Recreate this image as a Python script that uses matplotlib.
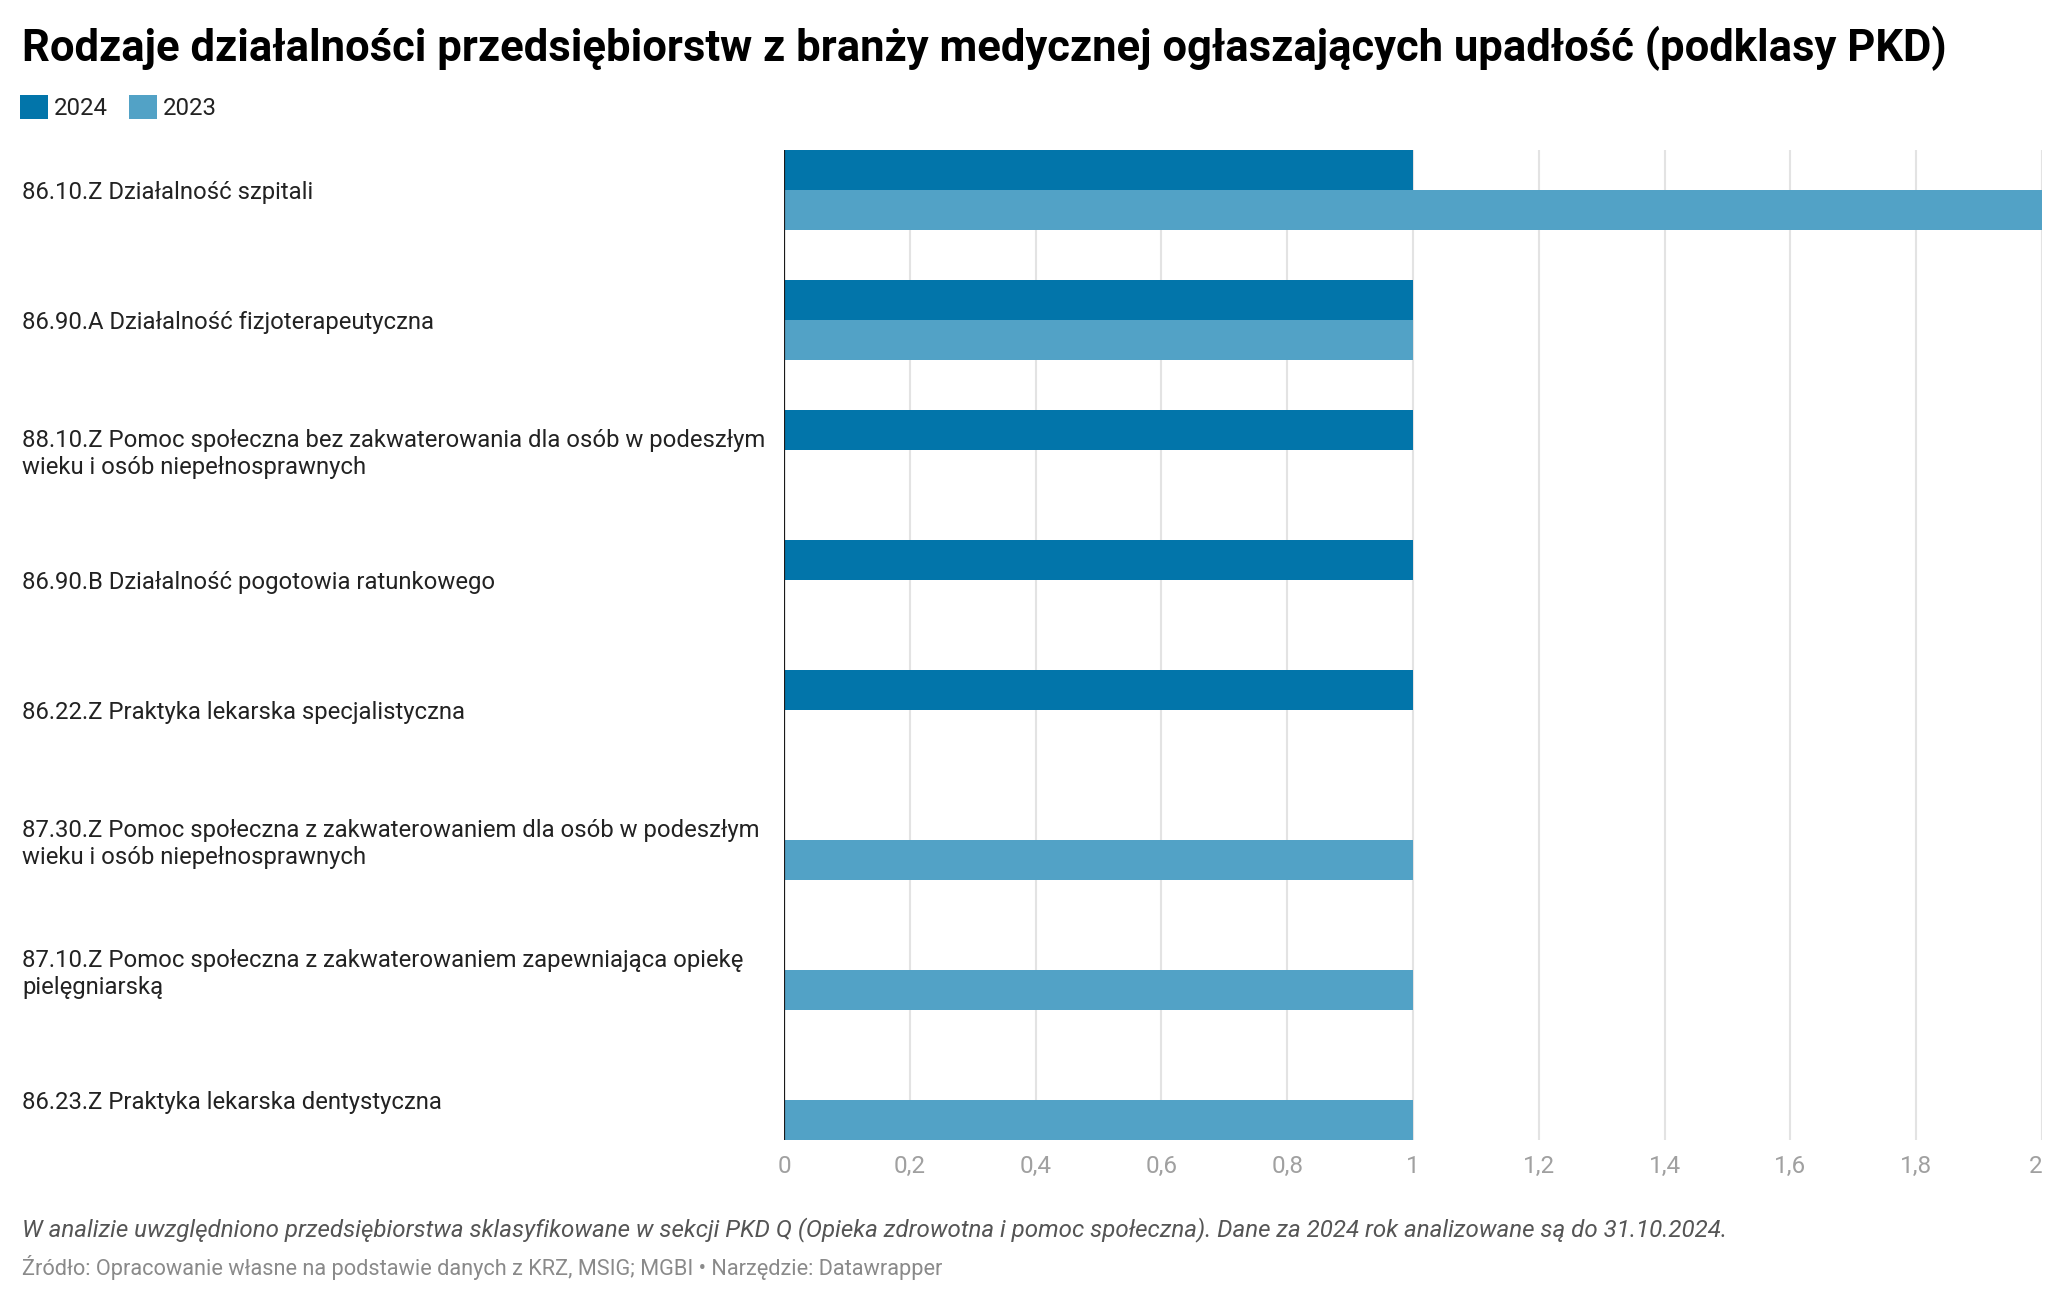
import matplotlib
matplotlib.use("Agg")
import matplotlib.pyplot as plt
from matplotlib.patches import Patch
import numpy as np

plt.rcParams['font.family'] = ['Roboto', 'DejaVu Sans']

categories = [
    "86.10.Z Działalność szpitali",
    "86.90.A Działalność fizjoterapeutyczna",
    "88.10.Z Pomoc społeczna bez zakwaterowania dla osób w podeszłym\nwieku i osób niepełnosprawnych",
    "86.90.B Działalność pogotowia ratunkowego",
    "86.22.Z Praktyka lekarska specjalistyczna",
    "87.30.Z Pomoc społeczna z zakwaterowaniem dla osób w podeszłym\nwieku i osób niepełnosprawnych",
    "87.10.Z Pomoc społeczna z zakwaterowaniem zapewniająca opiekę\npielęgniarską",
    "86.23.Z Praktyka lekarska dentystyczna",
]
series_names = ["2024", "2023"]
values_2024 = [1, 1, 1, 1, 1, 0, 0, 0]
values_2023 = [2, 1, 0, 0, 0, 1, 1, 1]
x_ticks = [0, 0.2, 0.4, 0.6, 0.8, 1, 1.2, 1.4, 1.6, 1.8, 2]
x_tick_labels = ["0", "0,2", "0,4", "0,6", "0,8", "1", "1,2", "1,4", "1,6", "1,8", "2"]

title = "Rodzaje działalności przedsiębiorstw z branży medycznej ogłaszających upadłość (podklasy PKD)"
note = ("W analizie uwzględniono przedsiębiorstwa sklasyfikowane w sekcji PKD Q (Opieka zdrowotna i pomoc "
        "społeczna). Dane za 2024 rok analizowane są do 31.10.2024.")
source = "Źródło: Opracowanie własne na podstawie danych z KRZ, MSIG; MGBI • Narzędzie: Datawrapper"

c2024 = "#0275AA"
c2023 = "#52A2C6"

W, H = 2064, 1302
fig = plt.figure(figsize=(W / 100, H / 100), dpi=100)
left, right, top, bottom = 784, 2042, 150, 1140
ax = fig.add_axes([left / W, 1 - bottom / H, (right - left) / W, (bottom - top) / H])

n = len(categories)
y = np.arange(n)
bh = 40 / 130
ax.barh(y - bh / 2, values_2024, height=bh, color=c2024, zorder=2, label=series_names[0])
ax.barh(y + bh / 2, values_2023, height=bh, color=c2023, zorder=2, label=series_names[1])

ax.set_ylim(n - 1 + bh, -bh)
ax.set_xlim(0, 2)
ax.axvline(0, color="#1a1a1a", lw=1.6, zorder=3)

for s in ax.spines.values():
    s.set_visible(False)

ax.set_xticks(x_ticks)
ax.set_xticklabels(x_tick_labels)
ax.grid(axis='x', color="#e3e3e3", lw=1.5, zorder=0)
ax.set_axisbelow(True)
ax.tick_params(axis='x', length=0, pad=11, labelsize=17.5, labelcolor="#a0a0a0")
xl = ax.get_xticklabels()
xl[-1].set_horizontalalignment('right')

ax.set_yticks(y)
ax.set_yticklabels(categories)
ax.tick_params(axis='y', length=0, pad=762 * 72 / 100, labelsize=17.2, labelcolor="#222222")
for t in ax.get_yticklabels():
    t.set_horizontalalignment('left')
    t.set_linespacing(1.2)

fig.text(22 / W, 1 - 48 / H, title, fontsize=31.4, fontweight='bold', color="#000000",
         ha='left', va='center')

handles = [Patch(facecolor=c2024, label=series_names[0]), Patch(facecolor=c2023, label=series_names[1])]
fig.legend(handles=handles, loc='upper left', bbox_to_anchor=(20 / W, 1 - 95 / H), ncol=2,
           frameon=False, fontsize=17.3, handlelength=1.17, handleheight=1.17,
           handletextpad=0.25, columnspacing=0.85, borderpad=0, borderaxespad=0,
           labelcolor="#222222")

fig.text(22 / W, 1 - 1230 / H, note, fontsize=17.4, style='italic', color="#555555",
         ha='left', va='center')
fig.text(22 / W, 1 - 1267 / H, source, fontsize=15.7, color="#8a8a8a", ha='left', va='center')

fig.savefig("out.png", dpi=100)
